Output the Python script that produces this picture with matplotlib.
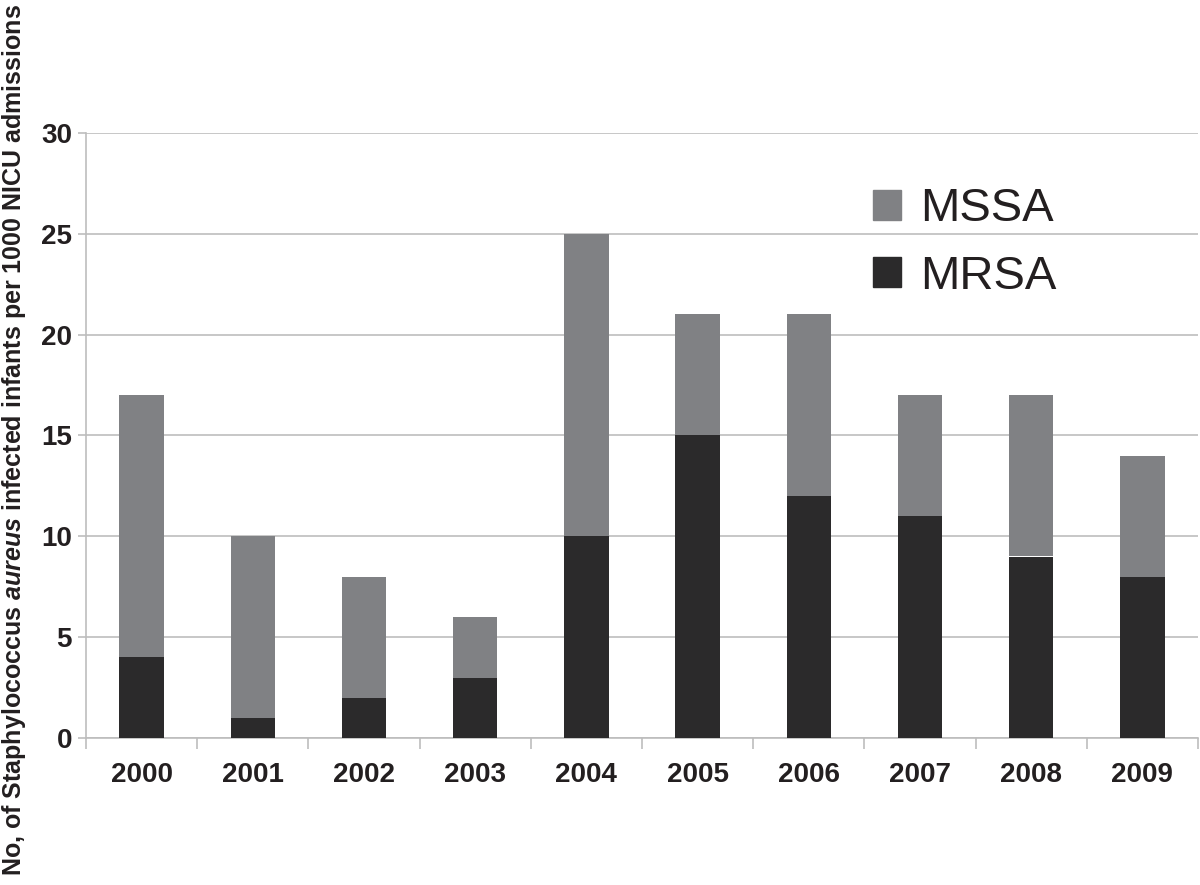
import matplotlib
matplotlib.use("Agg")
import matplotlib.pyplot as plt
from matplotlib.patches import Patch
import numpy as np

years = ["2000", "2001", "2002", "2003", "2004", "2005", "2006", "2007", "2008", "2009"]
mrsa = [4, 1, 2, 3, 10, 15, 12, 11, 9, 8]
mssa = [13, 9, 6, 3, 15, 6, 9, 6, 8, 6]

plt.rcParams['font.family'] = ['Liberation Sans', 'DejaVu Sans']
plt.rcParams['mathtext.fontset'] = 'custom'
plt.rcParams['mathtext.it'] = 'Liberation Sans:italic:bold'
plt.rcParams['mathtext.rm'] = 'Liberation Sans:bold'

c_mssa = "#808184"
c_mrsa = "#2b2a2b"
grid_c = "#bdbdbd"
text_c = "#231f20"

fig = plt.figure(figsize=(12, 8.85), dpi=100)
ax = fig.add_axes([86/1200, 1-738/885, (1198-86)/1200, (738-133)/885])

x = np.arange(len(years))
ax.bar(x, mrsa, width=0.4, color=c_mrsa, zorder=3)
ax.bar(x, mssa, width=0.4, bottom=mrsa, color=c_mssa, zorder=3)

ax.set_xlim(-0.5, len(years) - 0.5)
ax.set_ylim(0, 30)
ax.set_yticks(range(0, 31, 5))
ax.yaxis.grid(True, color=grid_c, linewidth=1.2, zorder=0)
ax.set_axisbelow(True)

for s in ['top', 'right']:
    ax.spines[s].set_visible(False)
ax.spines['left'].set_color(grid_c)
ax.spines['bottom'].set_color(grid_c)
ax.spines['left'].set_linewidth(1.2)
ax.spines['bottom'].set_linewidth(1.2)

ax.set_xticks(x)
ax.set_xticklabels(years, fontsize=20, fontweight='bold', color=text_c)
ax.set_xticks(np.arange(-0.5, len(years), 1.0), minor=True)
ax.tick_params(axis='x', which='major', length=0, pad=17)
ax.tick_params(axis='x', which='minor', length=8, color=grid_c, width=1.2)
ax.tick_params(axis='y', length=6, color=grid_c, width=1.2, pad=4)
for lab in ax.get_yticklabels():
    lab.set_fontsize(20)
    lab.set_fontweight('bold')
    lab.set_color(text_c)

fig.text(14/1200, 1 - 440/885,
         r"No, of Staphylococcus $aureus$ infected infants per 1000 NICU admissions",
         rotation=90, ha='center', va='center', fontsize=18, fontweight='bold', color=text_c)

handles = [Patch(color=c_mssa, label="MSSA"), Patch(color=c_mrsa, label="MRSA")]
fig.legend(handles=handles, loc='center left', bbox_to_anchor=(873/1200, 1-243/885),
           frameon=False, fontsize=34, handlelength=0.6, handleheight=0.6,
           handletextpad=0.4, labelspacing=0.5, borderpad=0, borderaxespad=0,
           labelcolor=text_c)

fig.savefig("out.png", dpi=100)
